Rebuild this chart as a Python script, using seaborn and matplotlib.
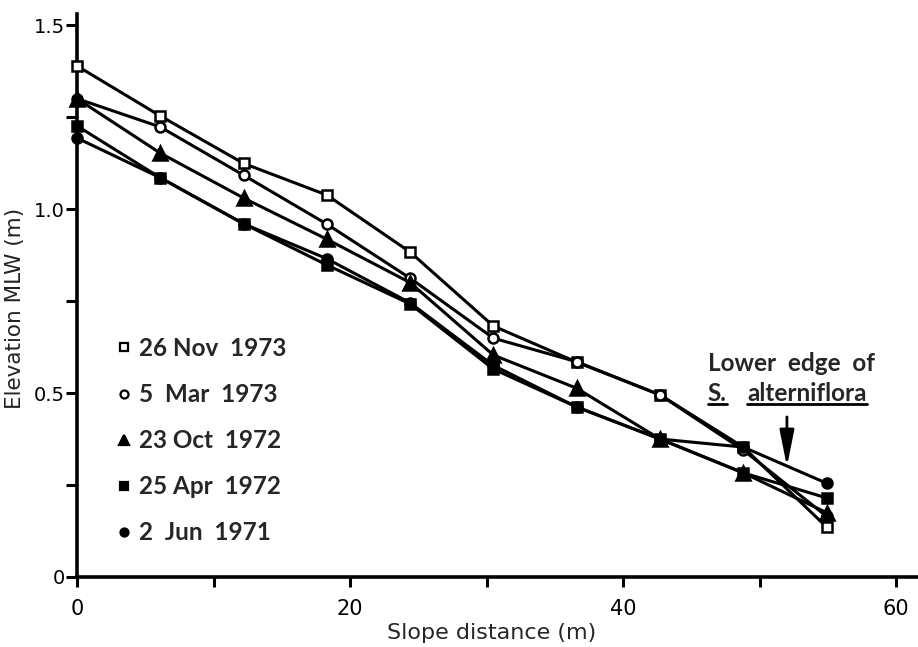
import matplotlib
matplotlib.use("Agg")
import matplotlib.pyplot as plt
from matplotlib.lines import Line2D
import seaborn as sns

# ---- data ----
distance = [0, 6.1, 12.2, 18.3, 24.4, 30.5, 36.6, 42.7, 48.8, 54.9]
nov_1973 = [1.389, 1.253, 1.124, 1.038, 0.883, 0.682, 0.584, 0.495, 0.353, 0.136]
mar_1973 = [1.300, 1.223, 1.092, 0.959, 0.812, 0.649, 0.585, 0.495, 0.345, 0.165]
oct_1972 = [1.300, 1.152, 1.030, 0.918, 0.800, 0.603, 0.513, 0.375, 0.283, 0.175]
apr_1972 = [1.226, 1.085, 0.960, 0.848, 0.742, 0.565, 0.462, 0.375, 0.283, 0.215]
jun_1971 = [1.193, 1.085, 0.960, 0.865, 0.745, 0.575, 0.462, 0.375, 0.353, 0.255]

series_labels = ["26 Nov  1973", "5  Mar  1973", "23 Oct  1972", "25 Apr  1972", "2  Jun  1971"]
series_values = [nov_1973, mar_1973, oct_1972, apr_1972, jun_1971]

x_ticks = [0, 10, 20, 30, 40, 50, 60]
x_ticklabels = ["0", "", "20", "", "40", "", "60"]
y_ticks = [0, 0.25, 0.5, 0.75, 1.0, 1.25, 1.5]
y_ticklabels = ["0", "", "0.5", "", "1.0", "", "1.5"]

# ---- styles ----
styles = [
    dict(marker="s", mfc="white", ms=7.2),
    dict(marker="o", mfc="white", ms=7.2),
    dict(marker="^", mfc="black", ms=9.5),
    dict(marker="s", mfc="black", ms=7.2),
    dict(marker="o", mfc="black", ms=7.2),
]

sns.set_style("ticks")
plt.rcParams["font.family"] = ["DejaVu Sans"]

W, H = 918, 647
fig = plt.figure(figsize=(W / 100, H / 100), dpi=100)
fig.patch.set_facecolor("white")
ax = fig.add_axes([77 / W, 1 - 577 / H, (W - 77) / W, (577 - 14) / H])
ax.set_facecolor("white")

draw_order = [4, 3, 2, 1, 0]
for i in draw_order:
    st = styles[i]
    sns.lineplot(x=distance, y=series_values[i], ax=ax, color="black",
                 linewidth=2.2, marker=st["marker"], markersize=st["ms"],
                 markerfacecolor=st["mfc"], markeredgecolor="black",
                 markeredgewidth=1.8, clip_on=False, zorder=3 + i,
                 legend=False)

ax.set_xlim(0, 61.6)
ax.set_ylim(0, 1.53)
ax.set_xticks(x_ticks)
ax.set_xticklabels(x_ticklabels, fontsize=15)
ax.set_yticks(y_ticks)
ax.set_yticklabels(y_ticklabels, fontsize=14)
ax.tick_params(axis="x", direction="out", length=7, width=2.2, pad=9, colors="black")
ax.tick_params(axis="y", direction="out", length=8, width=2.2, pad=1, colors="black")
for s in ["top", "right"]:
    ax.spines[s].set_visible(False)
for s in ["left", "bottom"]:
    ax.spines[s].set_linewidth(2.6)
    ax.spines[s].set_color("black")

ax.set_xlabel("Slope distance (m)", fontsize=16)
ax.set_ylabel("Elevation MLW (m)", fontsize=15.5, color="#222222")
ax.xaxis.set_label_coords((492 - 77) / (W - 77), -(623 - 577) / (577 - 14))
ax.yaxis.set_label_coords(-(77 - 25) / (W - 77), (577 - 308) / (577 - 14))

# legend
handles = []
for st in styles:
    handles.append(Line2D([], [], linestyle="none", marker=st["marker"],
                          markersize=st["ms"] * 0.8, markerfacecolor=st["mfc"],
                          markeredgecolor="black", markeredgewidth=1.6))
leg = ax.legend(handles, series_labels, loc="upper left",
                bbox_to_anchor=(112 / W, 1 - 337 / H), bbox_transform=fig.transFigure,
                frameon=False, borderpad=0, borderaxespad=0, handlelength=0.95,
                handletextpad=0.15, labelspacing=0.95,
                prop=dict(family="Lato", weight="bold", size=17.5))

# annotation
ax.text(46.2, 0.579, "Lower  edge  of", fontsize=17.5, fontweight="bold",
        family="Lato", va="center", ha="left")
t1 = ax.text(46.2, 0.500, "S.", fontsize=17.5, fontweight="bold",
             family="Lato", va="center", ha="left")
t2 = ax.text(49.1, 0.500, "alterniflora", fontsize=17.5, fontweight="bold",
             family="Lato", va="center", ha="left")
ax.annotate("", xy=(52.0, 0.300), xytext=(52.0, 0.435),
            arrowprops=dict(arrowstyle="-|>,head_width=0.22,head_length=1.1",
                            lw=2.0, color="black", mutation_scale=20,
                            shrinkA=0, shrinkB=0))

fig.canvas.draw()
inv = fig.transFigure.inverted()
for t in (t1, t2):
    bb = t.get_window_extent()
    (fx0, fy0) = inv.transform((bb.x0, bb.y0 + 1))
    (fx1, _) = inv.transform((bb.x1, bb.y0 + 1))
    fig.add_artist(Line2D([fx0, fx1], [fy0, fy0], transform=fig.transFigure,
                          color="black", linewidth=2.0))

fig.savefig("out.png", dpi=100, facecolor="white")
